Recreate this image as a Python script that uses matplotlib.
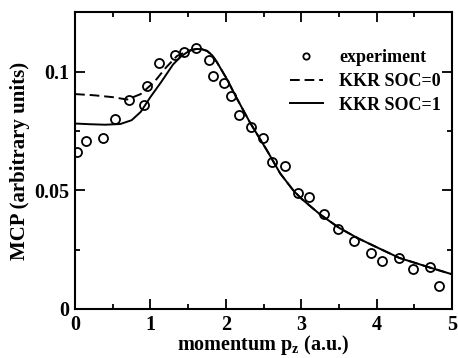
import matplotlib
matplotlib.use("Agg")
import matplotlib.pyplot as plt
from matplotlib.ticker import MultipleLocator

plt.rcParams['font.family'] = ['Liberation Serif', 'DejaVu Serif']
plt.rcParams['font.weight'] = 'bold'
plt.rcParams['mathtext.fontset'] = 'custom'
plt.rcParams['mathtext.rm'] = 'Liberation Serif:bold'
plt.rcParams['mathtext.it'] = 'Liberation Serif:bold'

# experimental points
exp_p = [0.03, 0.15, 0.37, 0.53, 0.71, 0.92, 0.96, 1.11, 1.32, 1.45, 1.61,
         1.77, 1.83, 1.98, 2.07, 2.18, 2.33, 2.49, 2.61, 2.79, 2.95, 3.10,
         3.30, 3.49, 3.70, 3.92, 4.07, 4.29, 4.48, 4.71, 4.83]
exp_mcp = [0.0661, 0.0707, 0.0722, 0.0802, 0.0879, 0.0861, 0.0941, 0.1037,
           0.1068, 0.1082, 0.1099, 0.1047, 0.0982, 0.0951, 0.0899, 0.0816,
           0.0767, 0.0718, 0.0619, 0.0601, 0.0487, 0.0471, 0.0402, 0.0335,
           0.0286, 0.0237, 0.0202, 0.0216, 0.0167, 0.0178, 0.0097]

# KKR SOC=1 (solid)
soc1_p = [0.0, 0.2, 0.4, 0.6, 0.75, 0.87, 1.0, 1.14, 1.30, 1.40, 1.48, 1.55,
          1.61, 1.68, 1.75, 1.82, 1.88, 2.01, 2.14, 2.32, 2.55, 2.72, 2.90,
          3.0, 3.25, 3.5, 3.75, 4.0, 4.3, 4.7, 5.0]
soc1_mcp = [0.0781, 0.0778, 0.0776, 0.0779, 0.0795, 0.0830, 0.0893, 0.0955,
            0.1030, 0.1062, 0.1080, 0.1091, 0.1095, 0.1094, 0.1087, 0.1068,
            0.1040, 0.0970, 0.0890, 0.0785, 0.0665, 0.0571, 0.0497, 0.0465,
            0.0398, 0.0342, 0.0298, 0.0260, 0.0215, 0.0175, 0.0146]

# KKR SOC=0 (dashed)
soc0_p = [0.0, 0.25, 0.5, 0.69, 0.87, 1.05, 1.2, 1.35, 1.50, 1.61, 1.68,
          1.75, 1.82, 1.88, 2.01, 2.14, 2.32, 2.55, 2.72, 2.90, 3.0, 3.25,
          3.5, 3.75, 4.0, 4.3, 4.7, 5.0]
soc0_mcp = [0.0905, 0.0900, 0.0892, 0.0882, 0.0905, 0.0956, 0.1015, 0.1065,
            0.1088, 0.1095, 0.1094, 0.1087, 0.1068, 0.1040, 0.0970, 0.0890,
            0.0785, 0.0665, 0.0571, 0.0497, 0.0465, 0.0398, 0.0342, 0.0298,
            0.0260, 0.0215, 0.0175, 0.0146]

fig = plt.figure(figsize=(4.58, 3.58), dpi=100)
ax = fig.add_axes([0.164, 0.137, 0.823, 0.829])

ax.plot(exp_p, exp_mcp, 'o', ms=6.5, mfc='none', mec='black', mew=1.3,
        label='experiment')
ax.plot(soc0_p, soc0_mcp, color='black', lw=1.4, dashes=(5, 2.5),
        label='KKR SOC=0')
ax.plot(soc1_p, soc1_mcp, color='black', lw=1.4, label='KKR SOC=1')

ax.set_xlim(0, 5)
ax.set_ylim(0, 0.125)
ax.xaxis.set_minor_locator(MultipleLocator(0.5))
ax.yaxis.set_minor_locator(MultipleLocator(0.025))
ax.set_xticks([0, 1, 2, 3, 4, 5], ['0', '1', '2', '3', '4', '5'])
ax.set_yticks([0, 0.05, 0.1], ['0', '0.05', '0.1'])
ax.tick_params(which='both', direction='in', top=True, right=True,
               labelsize=14.5, width=1.3, pad=4)
ax.tick_params(which='major', length=7.5)
ax.tick_params(which='minor', length=3.5)
for s in ax.spines.values():
    s.set_linewidth(1.5)

ax.set_xlabel(r'momentum p$_\mathregular{z}$ (a.u.)', fontsize=14.5,
              fontweight='bold', labelpad=-1)
ax.set_ylabel('MCP (arbitrary units)', fontsize=15, fontweight='bold',
              labelpad=3)

ax.legend(loc='upper right', bbox_to_anchor=(0.99, 0.9), frameon=False,
          fontsize=13, handlelength=1.85, handletextpad=0.9,
          labelspacing=0.38, borderaxespad=0, markerscale=0.7)

fig.savefig('out.png', dpi=100)
